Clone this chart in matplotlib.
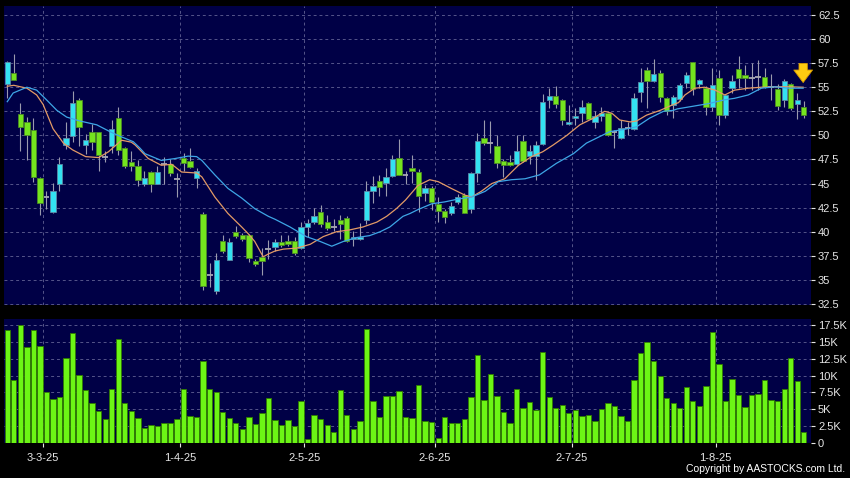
import matplotlib
matplotlib.use("Agg")
import matplotlib.pyplot as plt
import numpy as np

# daily candles (HKD)
opens = [55.3, 56.5, 52.2, 51.4, 50.6, 45.6, 43.6, 42.0, 45.0, 49.0,
         49.9, 53.7, 49.0, 50.4, 50.4, 47.8, 48.9, 51.8, 48.7, 47.2,
         46.8, 45.0, 46.2, 45.0, 47.0, 47.0, 45.5, 47.7, 47.3, 45.6,
         41.8, 35.5, 33.9, 39.0, 37.1, 40.0, 39.7, 39.7, 37.0, 37.4,
         38.2, 38.4, 38.9, 39.0, 39.0, 38.3, 40.5, 41.0, 42.0, 41.0,
         40.5, 41.2, 41.4, 39.2, 39.2, 41.2, 44.2, 45.3, 45.1, 45.8,
         47.7, 45.9, 46.6, 46.2, 44.0, 44.5, 42.9, 42.2, 41.9, 43.1,
         43.8, 42.4, 46.1, 49.7, 49.2, 48.9, 47.3, 47.2, 47.0, 49.4,
         47.9, 47.9, 49.1, 53.7, 54.1, 53.7, 51.2, 51.8, 52.3, 53.4,
         51.35, 52.0, 52.3, 50.4, 49.7, 50.8, 50.7, 54.5, 56.8, 55.6,
         56.5, 53.9, 53.2, 53.8, 55.4, 57.6, 55.3, 54.9, 53.0, 56.0,
         52.1, 54.9, 56.9, 56.3, 56.0, 56.1, 56.1, 55.0, 54.8, 53.7,
         55.3, 53.3, 52.9]
highs = [57.7, 58.4, 53.4, 51.9, 51.8, 45.7, 44.2, 45.1, 47.8, 51.4,
         54.6, 53.9, 50.1, 51.2, 50.4, 48.4, 51.6, 52.9, 48.8, 48.4,
         47.4, 46.3, 46.3, 46.8, 47.8, 47.6, 46.1, 48.2, 48.7, 46.6,
         42.1, 36.8, 37.8, 39.7, 39.4, 40.6, 39.9, 39.8, 37.2, 38.3,
         39.1, 39.3, 39.7, 39.7, 39.5, 41.0, 41.3, 42.5, 42.8, 41.7,
         41.3, 41.7, 41.6, 40.1, 40.9, 45.3, 45.8, 45.9, 46.6, 48.0,
         49.6, 46.3, 48.0, 46.5, 44.9, 44.8, 43.6, 42.4, 43.1, 43.9,
         44.0, 46.2, 50.3, 51.6, 51.5, 50.0, 47.6, 48.0, 50.0, 50.0,
         49.0, 49.4, 54.3, 54.9, 55.1, 53.8, 53.2, 52.8, 53.7, 53.5,
         52.5, 53.0, 52.5, 50.6, 51.6, 51.4, 54.4, 57.0, 57.1, 57.9,
         56.8, 54.0, 54.2, 55.4, 56.6, 57.6, 55.9, 55.1, 57.0, 56.8,
         54.3, 56.3, 58.2, 57.3, 57.5, 57.8, 57.0, 56.4, 55.3, 55.9,
         55.4, 54.4, 53.6]
lows = [53.9, 55.7, 48.4, 47.4, 45.2, 41.7, 42.4, 41.9, 44.2, 48.6,
        49.3, 48.9, 48.1, 48.5, 46.3, 47.2, 48.2, 48.0, 46.6, 46.3,
        44.8, 44.8, 44.1, 45.0, 45.0, 45.8, 43.6, 46.3, 46.6, 44.5,
        34.0, 34.3, 33.5, 37.8, 37.1, 39.4, 39.0, 36.9, 36.4, 35.5,
        37.2, 38.0, 38.4, 38.5, 37.6, 38.2, 39.5, 40.8, 40.5, 40.2,
        40.1, 39.2, 38.9, 38.5, 39.1, 40.8, 43.0, 43.7, 43.7, 45.7,
        45.9, 45.0, 45.1, 42.1, 43.2, 42.3, 41.0, 40.9, 41.7, 42.9,
        41.9, 41.9, 45.2, 49.0, 48.2, 46.6, 45.7, 46.8, 46.9, 47.2,
        47.0, 45.4, 49.0, 52.8, 52.8, 51.1, 51.1, 51.1, 51.4, 51.7,
        50.8, 51.5, 49.9, 48.7, 49.6, 50.0, 50.6, 53.5, 52.8, 55.5,
        53.5, 52.1, 51.8, 53.6, 54.9, 54.2, 54.9, 52.1, 52.5, 51.1,
        51.8, 54.4, 54.9, 54.7, 54.7, 54.7, 54.9, 53.7, 52.6, 52.9,
        52.6, 51.7, 51.8]
closes = [57.6, 55.7, 50.9, 50.0, 45.7, 43.0, 43.6, 44.2, 47.0, 49.7,
          53.4, 50.9, 49.5, 49.3, 48.0, 47.8, 50.7, 48.5, 46.8, 46.8,
          45.4, 45.6, 45.0, 46.2, 47.0, 46.1, 45.5, 47.1, 46.7, 46.3,
          34.4, 35.5, 37.1, 38.0, 38.9, 39.6, 39.2, 37.3, 36.7, 37.0,
          38.2, 38.9, 38.6, 38.7, 37.8, 40.5, 40.9, 41.6, 40.8, 40.4,
          40.5, 40.8, 39.0, 39.5, 39.5, 44.2, 44.8, 44.6, 45.7, 47.5,
          45.9, 45.9, 46.3, 43.7, 44.5, 43.1, 42.2, 41.5, 42.7, 43.6,
          41.9, 46.1, 49.4, 49.2, 49.2, 47.1, 46.9, 46.9, 48.4, 47.3,
          48.4, 49.0, 53.5, 54.1, 53.3, 51.6, 51.4, 52.0, 53.0, 51.7,
          52.0, 52.3, 50.0, 50.4, 50.8, 50.8, 53.9, 55.5, 55.6, 56.4,
          54.0, 52.5, 54.0, 55.2, 56.3, 54.8, 55.75, 53.0, 55.2, 52.1,
          54.2, 55.65, 56.0, 56.0, 56.0, 56.1, 55.0, 55.0, 53.1, 55.6,
          52.8, 53.7, 52.1]
# volume in thousands of shares
volumes = [16.8, 9.4, 17.5, 14.2, 16.7, 14.4, 7.5, 6.6, 6.9, 12.6,
           16.3, 10.1, 7.8, 5.9, 4.8, 3.6, 8.0, 15.5, 5.9, 4.7,
           3.7, 2.2, 2.7, 2.5, 3.0, 2.9, 3.5, 8.0, 4.0, 3.9,
           12.2, 8.0, 7.6, 4.6, 3.7, 2.9, 2.1, 3.8, 2.8, 4.5,
           6.7, 3.4, 2.6, 3.4, 2.5, 6.2, 0.6, 4.2, 3.6, 2.7,
           1.6, 7.8, 4.1, 2.1, 3.3, 16.9, 6.2, 3.9, 7.0, 7.0,
           7.7, 3.9, 3.7, 8.6, 3.2, 3.1, 0.7, 3.9, 2.9, 3.0,
           3.5, 6.8, 13.1, 6.4, 10.3, 7.0, 4.6, 3.0, 8.0, 5.2,
           6.1, 4.9, 13.5, 6.8, 5.2, 5.7, 4.5, 4.9, 4.0, 4.1,
           3.2, 5.1, 5.9, 5.5, 4.0, 3.2, 9.4, 13.4, 15.0, 12.1,
           9.9, 6.7, 6.0, 5.2, 8.3, 6.3, 5.5, 8.4, 16.4, 11.7,
           6.3, 9.5, 7.1, 5.3, 7.1, 7.3, 9.3, 6.4, 6.2, 8.0,
           12.6, 9.2, 1.6]

# moving averages, sampled along the lines (candle index, price)
fast_ma_x = [0, 1, 3, 4.5, 5.5, 7, 8.6, 10, 12, 14, 15.5, 17.5, 19, 19.6,
             21.6, 23.6, 25.2, 26.7, 29, 29.8, 31.8, 33.8, 35.9, 36.9, 37.9,
             39.2, 40, 41, 42.3, 44.3, 46.4, 48.4, 50.4, 52.5, 54.5, 56.6,
             58.1, 59.6, 61, 62.9, 64.7, 66, 68, 70.1, 71.1, 72.6, 74.2,
             76.2, 78.3, 80.3, 82, 83.6, 85.7, 87.7, 89.8, 91.5, 92.6, 93.8,
             95.4, 96.4, 97.9, 100, 102, 102.8, 103.8, 105.3, 106.8, 108.4,
             109.9, 111.4, 113.5, 115.5, 117.6, 119.6, 121.9]
fast_ma = [55.1, 55.2, 54.9, 54.2, 53.2, 50.7, 49.2, 48.5, 47.8, 47.7, 48.3,
           49.5, 49.3, 49.0, 47.6, 46.9, 47.0, 46.2, 46.1, 45.7, 43.6, 41.9,
           40.5, 39.8, 39.0, 37.4, 37.7, 38.0, 38.2, 38.3, 38.7, 39.5, 40.0,
           40.2, 40.5, 41.0, 41.6, 42.4, 43.3, 44.8, 45.4, 45.2, 44.5, 43.8,
           43.6, 44.2, 45.0, 45.5, 46.9, 47.8, 48.3, 49.0, 50.0, 51.1, 51.8,
           52.5, 52.3, 51.6, 51.4, 51.5, 52.1, 52.6, 53.2, 53.4, 54.2, 54.9,
           55.0, 54.7, 54.2, 54.7, 54.9, 55.0, 55.05, 55.05, 55.0]
slow_ma_x = [0, 0.9, 3, 4.5, 6, 7.6, 9.1, 11.1, 13.7, 15.7, 17.3, 19.3, 20.3,
             21.1, 23.6, 25.7, 27.7, 29, 29.8, 31.8, 33.8, 35.9, 37.9, 40,
             41, 43.3, 45.8, 47.9, 49.7, 51.5, 53.5, 55.5, 57.1, 58.6, 60.6,
             61.7, 62.9, 65, 67, 69.1, 71.1, 73.2, 75.2, 77.2, 79.3, 81.5,
             84.1, 86.7, 88.7, 90.8, 92.3, 94.3, 96.4, 98.4, 100.5, 102,
             102.6, 104.8, 107.4, 109.9, 111.4, 113.5, 115.5, 117.6, 119.6,
             121.9]
slow_ma = [53.5, 54.4, 55.0, 54.7, 53.7, 52.6, 51.9, 51.5, 51.1, 50.4, 49.9,
           49.35, 48.7, 48.1, 47.4, 47.6, 47.85, 47.8, 47.4, 45.9, 44.5,
           43.5, 42.4, 41.6, 41.3, 40.5, 39.5, 39.0, 38.5, 39.0, 39.4, 39.6,
           40.0, 40.5, 41.6, 41.9, 42.3, 42.9, 43.1, 43.4, 43.6, 44.2, 45.2,
           45.4, 45.5, 45.9, 47.1, 48.1, 49.2, 49.9, 50.4, 50.6, 50.9, 51.8,
           52.5, 52.6, 52.75, 53.0, 53.3, 53.7, 53.85, 54.2, 54.9, 55.05,
           54.9, 54.9]

month_idx = [5, 26, 45, 65, 86, 108]
month_labels = ["3-3-25", "1-4-25", "2-5-25", "2-6-25", "2-7-25", "1-8-25"]
price_ticks = [32.5, 35, 37.5, 40, 42.5, 45, 47.5, 50, 52.5, 55, 57.5, 60, 62.5]
vol_ticks = [0, 2.5, 5, 7.5, 10, 12.5, 15, 17.5]

plt.rcParams['font.family'] = ['Liberation Sans', 'DejaVu Sans']

navy = '#000046'
gridc = '#55558a'
txt = '#e6e6e6'

fig = plt.figure(figsize=(8.5, 4.78), dpi=100, facecolor='black')
ax = fig.add_axes([4/850, 1-305/478, 807/850, 299/478], facecolor=navy)
axv = fig.add_axes([4/850, 1-443/478, 807/850, 124/478], facecolor=navy)

x = np.arange(len(closes))
o = np.array(opens)
c = np.array(closes)
up = c > o
dn = c < o
dj = c == o

ax.vlines(x, lows, highs, color='#9a9aae', lw=0.8, zorder=3)
ax.bar(x[up], (c - o)[up], bottom=o[up], width=0.82, color='#33e2f2',
       edgecolor='#5b88a6', lw=0.6, zorder=4)
ax.bar(x[dn], (o - c)[dn], bottom=c[dn], width=0.82, color='#74e41e',
       edgecolor='#4c8a26', lw=0.6, zorder=4)
ax.hlines(c[dj], x[dj] - 0.45, x[dj] + 0.45, color='#a8a8b4', lw=1.3, zorder=4)

ax.plot(fast_ma_x, fast_ma, color='#e39a66', lw=0.9, zorder=5)
ax.plot(slow_ma_x, slow_ma, color='#3ea6e6', lw=0.9, zorder=5)

# marker arrow at the latest bar
ax.annotate('', xy=(121.9, 55.2), xytext=(121.9, 57.75),
            arrowprops=dict(arrowstyle='simple,head_width=1.35,head_length=0.9,tail_width=0.6',
                            fc='#ffcc11', ec='#d89a00', lw=0.6), zorder=6)

ax.set_xlim(-0.5, 123.1)
ax.set_ylim(32.4, 63.43)

axv.bar(x, volumes, width=0.82, color='#6cf515', edgecolor='#2f7a00', lw=0.6, zorder=3)
axv.set_xlim(-0.5, 123.1)
axv.set_ylim(0, 18.4)

grid_kw = dict(color=gridc, lw=0.7, ls=(0, (3, 3)))
for a in (ax, axv):
    for s in a.spines.values():
        s.set_visible(False)
    a.set_xticks([m + 0.5 for m in month_idx])
    a.yaxis.tick_right()
    a.tick_params(axis='y', colors=txt, labelsize=8, length=3, pad=2, width=0.8)
    a.grid(True, zorder=1, **grid_kw)
    a.set_axisbelow(True)

ax.set_yticks(price_ticks)
ax.set_yticklabels([f'{v:g}' for v in price_ticks])
ax.tick_params(axis='x', length=0, labelbottom=False)

axv.set_yticks(vol_ticks)
axv.set_yticklabels(['0' if v == 0 else f'{v:g}K' for v in vol_ticks])
axv.set_xticklabels(month_labels)
axv.tick_params(axis='x', colors=txt, labelsize=8, length=3, pad=4, width=0.8)

fig.text(0.994, 0.008, 'Copyright by AASTOCKS.com Ltd.', ha='right', va='bottom',
         color='white', fontsize=7.5)

fig.savefig('out.png', dpi=100, facecolor='black')
